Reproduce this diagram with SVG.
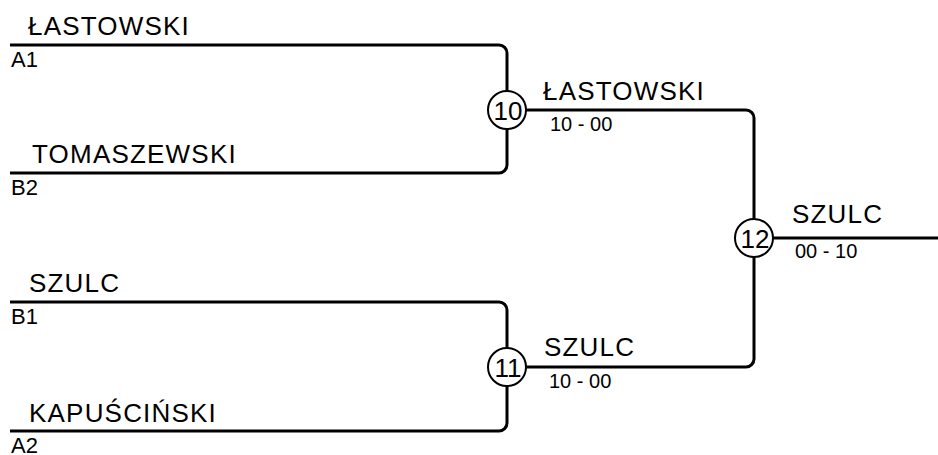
<svg xmlns="http://www.w3.org/2000/svg" width="938" height="455" viewBox="0 0 938 455">
<style>
.bg{fill:#ffffff}
.line{fill:none;stroke:#000;stroke-width:3;stroke-linejoin:round}
.node circle{fill:#fff;stroke:#000;stroke-width:2}
.num{font-family:"Liberation Sans",Arial,sans-serif;font-size:26px;text-anchor:middle;fill:#000}
.name{font-family:"Liberation Sans",Arial,sans-serif;font-size:26px;letter-spacing:1.2px;fill:#000}
.seed{font-family:"Liberation Sans",Arial,sans-serif;font-size:22px;fill:#000}
.score{font-family:"Liberation Sans",Arial,sans-serif;font-size:20px;fill:#000}
</style>
<rect class="bg" x="0" y="0" width="938" height="455"/>
<g id="connectors">
<path class="line" d="M10,45 H499 A8,8 0 0 1 507,53 V165 A8,8 0 0 1 499,173 H10"/>
<path class="line" d="M10,302 H499 A8,8 0 0 1 507,310 V423 A8,8 0 0 1 499,431 H10"/>
<path class="line" d="M507,110 H746 A8,8 0 0 1 754,118 V359 A8,8 0 0 1 746,367 H507"/>
<path class="line" d="M754,238 H938"/>
</g>
<g id="labels">
<text class="name" x="28" y="35">ŁASTOWSKI</text>
<text class="seed" x="11" y="67">A1</text>
<text class="name" x="32" y="163">TOMASZEWSKI</text>
<text class="seed" x="11" y="195">B2</text>
<text class="name" x="29" y="292">SZULC</text>
<text class="seed" x="11" y="324">B1</text>
<text class="name" x="29" y="422">KAPUŚCIŃSKI</text>
<text class="seed" x="11" y="453">A2</text>
<text class="name" x="543" y="100">ŁASTOWSKI</text>
<text class="score" x="550" y="131">10 - 00</text>
<text class="name" x="544" y="356">SZULC</text>
<text class="score" x="549" y="388">10 - 00</text>
<text class="name" x="792" y="223">SZULC</text>
<text class="score" x="795" y="258">00 - 10</text>
</g>
<g id="node10" class="node"><circle cx="507" cy="110" r="19"/><text class="num" x="508" y="119.5">10</text></g>
<g id="node11" class="node"><circle cx="507" cy="367" r="19"/><text class="num" x="508" y="376.5">11</text></g>
<g id="node12" class="node"><circle cx="754" cy="238" r="19"/><text class="num" x="755" y="247.5">12</text></g>
</svg>
